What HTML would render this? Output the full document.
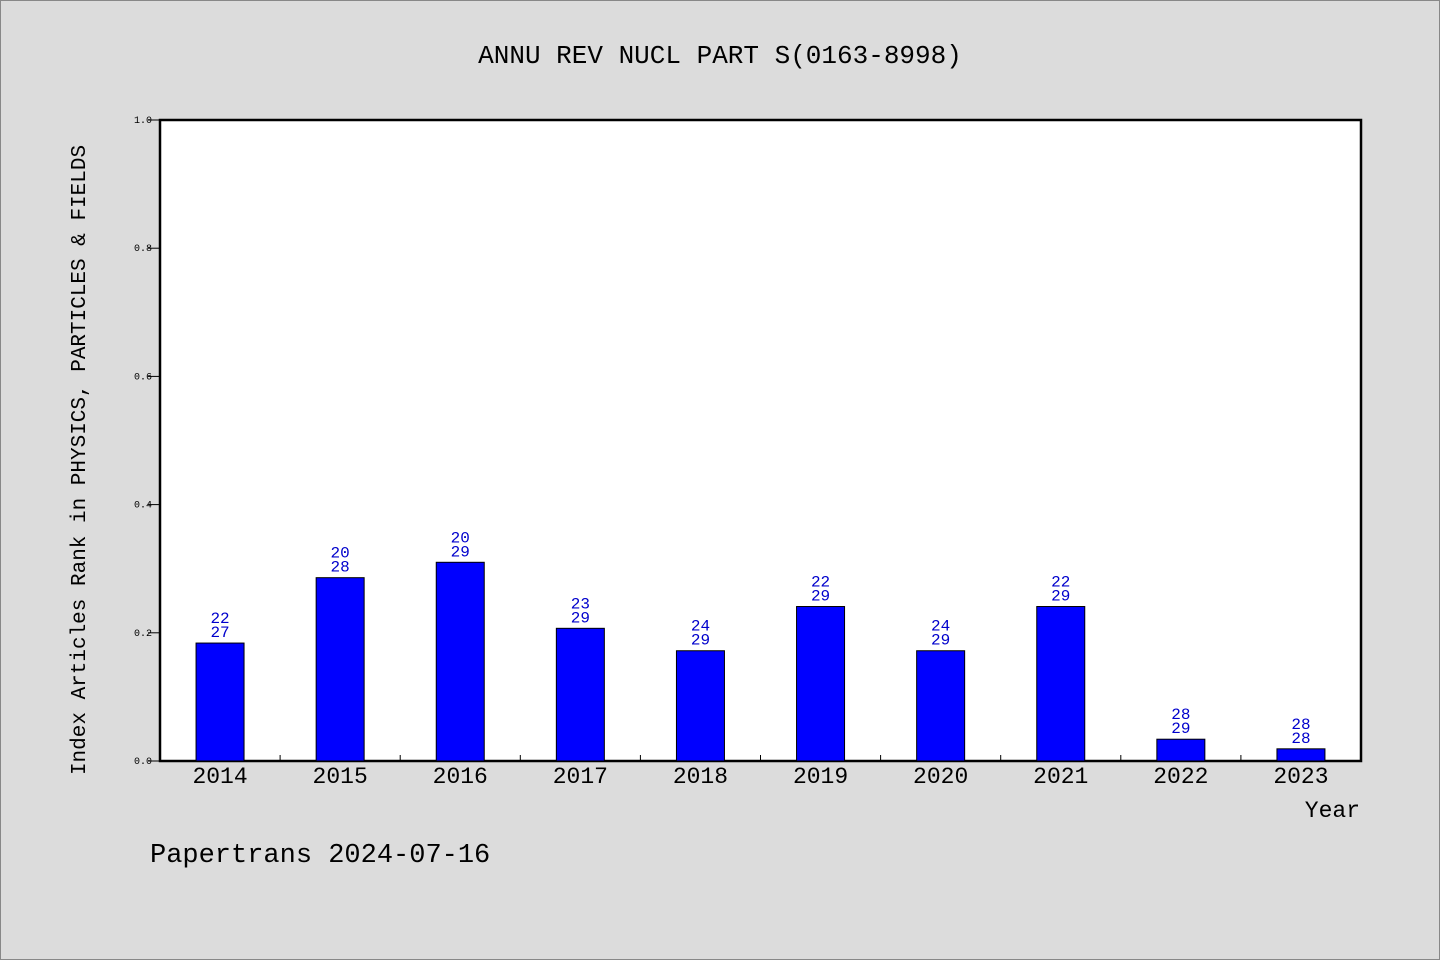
<!DOCTYPE html>
<html><head><meta charset="utf-8"><style>
body{margin:0;background:#dcdcdc}
svg{display:block}
text{font-family:"Liberation Mono","WenQuanYi Zen Hei",monospace}
</style></head><body>
<svg id="chart" width="1440" height="960" xmlns="http://www.w3.org/2000/svg">
<rect x="0.5" y="0.5" width="1439" height="959" fill="#dcdcdc" stroke="#888"/>
<text x="720" y="63" font-size="26" text-anchor="middle">ANNU REV NUCL PART S(0163-8998)</text>
<rect x="160" y="120" width="1201" height="641" fill="#fff" stroke="#000" stroke-width="2.5"/>
<g id="yaxis"></g>
<g id="xaxis"></g>
<g id="bars"></g>
<text transform="translate(85,460) rotate(-90)" font-size="21" text-anchor="middle">Index Articles Rank in PHYSICS, PARTICLES &amp; FIELDS</text>
<text x="1360" y="817" font-size="23" text-anchor="end">Year</text>
<text x="150" y="862" font-size="27">Papertrans 2024-07-16</text>
</svg>
<script>
const years=["2014","2015","2016","2017","2018","2019","2020","2021","2022","2023"];
const values=[0.184,0.286,0.31,0.207,0.172,0.241,0.172,0.241,0.034,0.019];
const ranks=[22,20,20,23,24,22,24,22,28,28];
const totals=[27,28,29,29,29,29,29,29,29,28];
const yTicks=[0,0.2,0.4,0.6,0.8,1.0];
const NS="http://www.w3.org/2000/svg";
const x0=160,x1=1361,y0=761,y1=120;
const step=(x1-x0)/years.length;
const yS=v=>y0-v*(y0-y1);
const xC=i=>x0+step*(i+0.5);
function mk(tag,attrs,parent,txt){const e=document.createElementNS(NS,tag);for(const k in attrs)e.setAttribute(k,attrs[k]);if(txt!==undefined)e.textContent=txt;parent.appendChild(e);return e;}
const ya=document.getElementById('yaxis'),xa=document.getElementById('xaxis'),bg=document.getElementById('bars');
yTicks.forEach(t=>{
  const l=mk('line',{x1:x0-12,x2:x0,y1:yS(t),y2:yS(t),stroke:'#000','stroke-width':1},ya);
  
  
  const tx=mk('text',{x:x0-8,y:yS(t)+3,'font-size':10,'text-anchor':'end'},ya,t.toFixed(1));
  
  
});
years.forEach((y,i)=>{
  if(i>0){const l=mk('line',{x1:x0+step*i,x2:x0+step*i,y1:y0,y2:y0-6,stroke:'#000','stroke-width':1},xa);
  
  }
  const tx=mk('text',{x:xC(i),y:y0+22,'font-size':23,'text-anchor':'middle'},xa,y);
  
  
  const b=mk('rect',{x:xC(i)-24,y:yS(values[i]),width:48,height:y0-yS(values[i]),fill:'#0000ff',stroke:'#000','stroke-width':1},bg);
  
  
  const t1=mk('text',{x:xC(i),y:yS(values[i])-20,'font-size':16,'text-anchor':'middle',fill:'#0000cc'},bg,String(ranks[i]));
  
  
  const t2=mk('text',{x:xC(i),y:yS(values[i])-6,'font-size':16,'text-anchor':'middle',fill:'#0000cc'},bg,String(totals[i]));
  
  
});
</script>
</body></html>
